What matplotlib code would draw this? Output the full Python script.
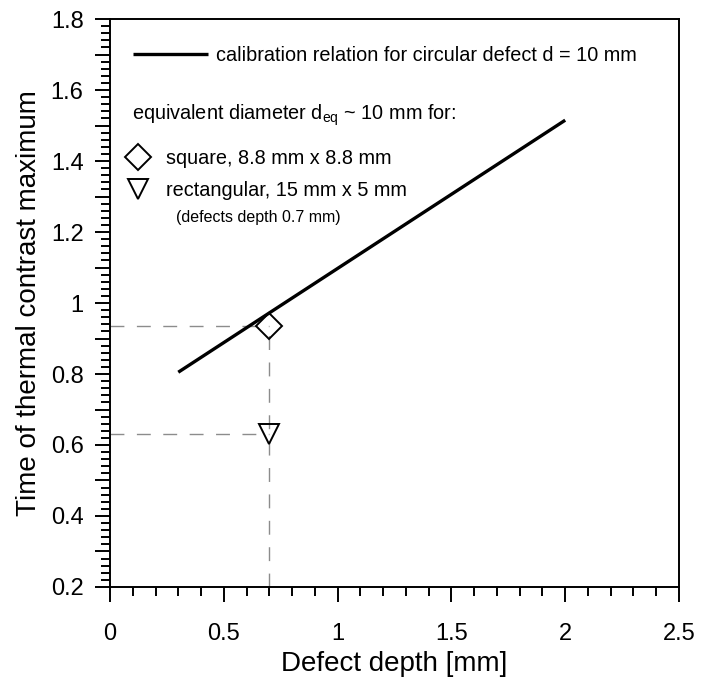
import numpy as np
import matplotlib
matplotlib.use('Agg')
import matplotlib.pyplot as plt
from matplotlib.ticker import MultipleLocator, FuncFormatter
from matplotlib.lines import Line2D

plt.rcParams['font.family'] = ['Liberation Sans', 'DejaVu Sans']
plt.rcParams['mathtext.default'] = 'regular'

# calibration relation for circular defect d = 10 mm
calib_depth = [0.3, 2.0]
calib_time = [0.805, 1.515]

# equivalent defects (depth 0.7 mm)
square_depth = [0.7]
square_time = [0.935]
rect_depth = [0.7]
rect_time = [0.63]

fig = plt.figure(figsize=(7.11, 6.79), dpi=100)
ax = fig.add_axes([0.1547, 0.1355, 0.8003, 0.8365])

# guide lines
dash = dict(color='#8c8c8c', lw=1.0, dashes=(10, 9), zorder=1)
ax.plot([0, square_depth[0]], [square_time[0], square_time[0]], **dash)
ax.plot([0, rect_depth[0]], [rect_time[0], rect_time[0]], **dash)
ax.plot([square_depth[0], square_depth[0]], [0.2, square_time[0]], **dash)

ax.plot(calib_depth, calib_time, color='black', lw=2.4, solid_capstyle='butt', zorder=3)
ax.plot(square_depth, square_time, 'D', ms=13, mfc='none', mec='black', mew=1.4, zorder=4)
ax.plot(rect_depth, rect_time, 'v', ms=15, mfc='none', mec='black', mew=1.4, zorder=4)

ax.set_xlim(0, 2.5)
ax.set_ylim(0.2, 1.8)

ax.xaxis.set_major_locator(MultipleLocator(0.5))
ax.xaxis.set_minor_locator(MultipleLocator(0.1))
ax.yaxis.set_major_locator(MultipleLocator(0.1))
ax.yaxis.set_minor_locator(MultipleLocator(0.02))


def xfmt(v, pos):
    return '%g' % round(v, 2)


def yfmt(v, pos):
    k = int(round(v * 10))
    return '%g' % round(v, 2) if k % 2 == 0 else ''


ax.xaxis.set_major_formatter(FuncFormatter(xfmt))
ax.yaxis.set_major_formatter(FuncFormatter(yfmt))

ax.tick_params(which='both', direction='out', width=1.4, top=False, right=False)
ax.tick_params(which='major', length=11, labelsize=17)
ax.tick_params(axis='x', which='major', pad=15)
ax.tick_params(axis='y', which='major', pad=8)
ax.tick_params(which='minor', length=6.5)
for s in ax.spines.values():
    s.set_linewidth(1.4)

ax.set_xlabel('Defect depth [mm]', fontsize=20, labelpad=4)
ax.set_ylabel('Time of thermal contrast maximum', fontsize=20, labelpad=6)

# legend
h1 = [Line2D([], [], color='black', lw=2.4, solid_capstyle='butt')]
leg1 = ax.legend(h1, ['calibration relation for circular defect d = 10 mm'],
                 loc='upper left', bbox_to_anchor=(0.040, 0.953), frameon=False,
                 fontsize=14.3, handlelength=3.8, handletextpad=0.4,
                 borderpad=0, borderaxespad=0)
ax.add_artist(leg1)

ax.text(0.0387, 0.831, 'equivalent diameter d$_{eq}$ ~ 10 mm for:',
        transform=ax.transAxes, fontsize=14.3, va='center', ha='left')

h2 = [Line2D([], [], ls='none', marker='D', ms=13, mfc='none', mec='black', mew=1.4),
      Line2D([], [], ls='none', marker='v', ms=15, mfc='none', mec='black', mew=1.4)]
ax.legend(h2, ['square, 8.8 mm x 8.8 mm', 'rectangular, 15 mm x 5 mm'],
          loc='upper left', bbox_to_anchor=(0.030, 0.771), frameon=False,
          fontsize=14.3, handlelength=1.1, handletextpad=0.85, labelspacing=0.65,
          borderpad=0, borderaxespad=0)

ax.text(0.116, 0.650, '(defects depth 0.7 mm)', transform=ax.transAxes,
        fontsize=11.5, va='center', ha='left')

fig.savefig('out.png', dpi=100)
